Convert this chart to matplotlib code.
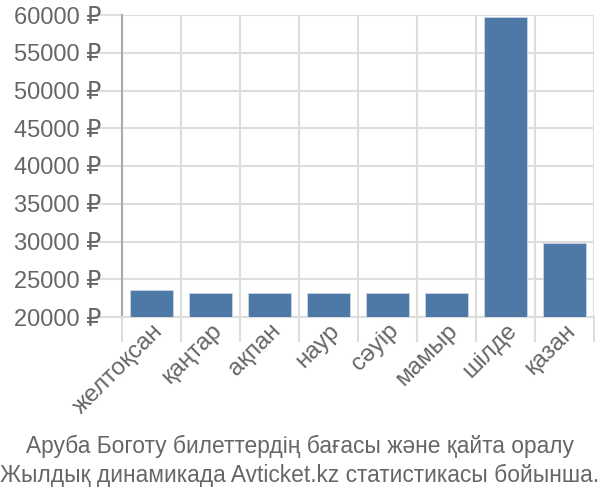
import matplotlib
matplotlib.use("Agg")
import matplotlib.pyplot as plt
import numpy as np

plt.rcParams['font.family'] = ['Liberation Sans', 'DejaVu Sans']

# Данные
months = ["желтоқсан", "қаңтар", "ақпан", "наур", "сәуір", "мамыр", "шілде", "қазан"]
prices = [23600, 23200, 23200, 23200, 23200, 23200, 59700, 29800]
y_ticks = [20000, 25000, 30000, 35000, 40000, 45000, 50000, 55000, 60000]
title_lines = ["Аруба Боготу билеттердің бағасы және қайта оралу",
               "Жылдық динамикада Avticket.kz статистикасы бойынша."]

text_color = "#666666"
grid_color = "#dddddd"

fig = plt.figure(figsize=(6, 5), dpi=100)
ax = fig.add_axes([0.2033, 0.366, 0.7867, 0.604])

x = np.arange(len(months))
ax.bar(x, prices, width=0.72, color="#4e79a7", edgecolor="#c8d6e5", linewidth=0.6, zorder=3)

ax.set_xlim(-0.5, len(months) - 0.5)
ax.set_ylim(y_ticks[0], y_ticks[-1])
ax.set_yticks(y_ticks)
ax.set_yticklabels([f"{v} ₽" for v in y_ticks])
ax.set_xticks(x)
ax.set_xticklabels(months, rotation=45, ha="right", rotation_mode="anchor")
ax.set_xticks(np.arange(-0.5, len(months)), minor=True)

ax.tick_params(axis="y", length=21, width=1.5, color=grid_color, labelsize=17,
               labelcolor=text_color, pad=-6)
ax.tick_params(axis="x", which="major", length=0, labelsize=17.5,
               labelcolor=text_color, pad=2)
ax.tick_params(axis="x", which="minor", length=18, width=1.5, color=grid_color)

ax.grid(axis="y", color=grid_color, linewidth=1.5, zorder=0)
ax.grid(axis="x", which="minor", color=grid_color, linewidth=1.5, zorder=0)

for side in ["top", "right"]:
    ax.spines[side].set_visible(False)
ax.spines["bottom"].set_color(grid_color)
ax.spines["bottom"].set_linewidth(1.5)
ax.spines["left"].set_color("#aaaaaa")
ax.spines["left"].set_linewidth(1.5)
ax.spines["left"].set_bounds(y_ticks[0], y_ticks[-1])

fig.text(0.5, 0.078, "\n".join(title_lines), ha="center", va="center",
         fontsize=16.4, color=text_color, linespacing=1.3)

fig.savefig("out.png", dpi=100)
